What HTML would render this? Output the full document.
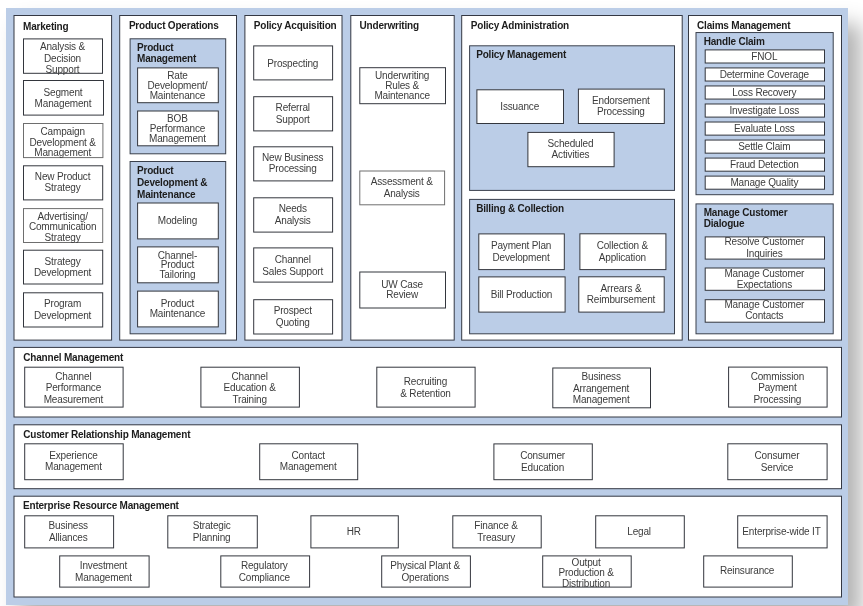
<!DOCTYPE html>
<html lang="en"><head><meta charset="utf-8"><title>Insurance Component Business Model</title>
<style>
html,body{margin:0;padding:0;background:#fff;}
body{width:863px;height:606px;position:relative;overflow:hidden;font-family:"Liberation Sans",sans-serif;font-size:10px;color:#3c3c3c;}
.bg{position:absolute;left:6px;top:8px;width:842px;height:596.5px;background:#bbcde7;box-shadow:13px 16px 20px rgba(0,0,0,.3);}
.s{position:absolute;left:0;top:0;}
.tx{position:absolute;left:0;top:0;width:863px;height:606px;will-change:transform;}
.t{position:absolute;text-align:center;white-space:nowrap;letter-spacing:-0.16px;}
.h{position:absolute;font-weight:bold;color:#1c1c1c;white-space:nowrap;line-height:11px;letter-spacing:-0.2px;}
</style></head><body>
<div class="bg"></div>
<svg class="s" width="863" height="606" viewBox="0 0 863 606">
<rect x="14" y="15.5" width="97.6" height="324.6" fill="#fff" stroke="#343843"/>
<rect x="119.7" y="15.5" width="116.8" height="324.6" fill="#fff" stroke="#343843"/>
<rect x="244.9" y="15.5" width="97.1" height="324.6" fill="#fff" stroke="#343843"/>
<rect x="350.8" y="15.5" width="103.4" height="324.6" fill="#fff" stroke="#343843"/>
<rect x="461.7" y="15.5" width="220.5" height="324.6" fill="#fff" stroke="#343843"/>
<rect x="688.5" y="15.5" width="153" height="324.6" fill="#fff" stroke="#343843"/>
<rect x="14" y="347.4" width="827.5" height="69.6" fill="#fff" stroke="#343843"/>
<rect x="14" y="424.8" width="827.5" height="63.9" fill="#fff" stroke="#343843"/>
<rect x="14" y="496.2" width="827.5" height="100.8" fill="#fff" stroke="#343843"/>
<rect x="130.1" y="38.8" width="95.6" height="115" fill="#bbcde7" stroke="#3a404c"/>
<rect x="130.1" y="161.5" width="95.6" height="172.3" fill="#bbcde7" stroke="#3a404c"/>
<rect x="469.6" y="45.8" width="204.9" height="144.6" fill="#bbcde7" stroke="#3a404c"/>
<rect x="469.6" y="199.4" width="204.9" height="134.4" fill="#bbcde7" stroke="#3a404c"/>
<rect x="696" y="32.55" width="137.2" height="162.15" fill="#bbcde7" stroke="#3a404c"/>
<rect x="696" y="203.9" width="137.2" height="129.9" fill="#bbcde7" stroke="#3a404c"/>
<rect x="23.5" y="38.9" width="79" height="34.4" fill="#fff" stroke="#33363d"/>
<rect x="23.5" y="80.5" width="80" height="34.6" fill="#fff" stroke="#33363d"/>
<rect x="23.5" y="123.5" width="79.4" height="34.1" fill="#fff" stroke="#6e6e6e"/>
<rect x="23.5" y="165.8" width="79.2" height="34.1" fill="#fff" stroke="#33363d"/>
<rect x="23.5" y="208.6" width="79.2" height="33.9" fill="#fff" stroke="#6e6e6e"/>
<rect x="23.5" y="250.2" width="79.2" height="33.8" fill="#fff" stroke="#33363d"/>
<rect x="23.5" y="292.8" width="79.2" height="34.2" fill="#fff" stroke="#33363d"/>
<rect x="137.6" y="67.9" width="80.7" height="34.8" fill="#fff" stroke="#33363d"/>
<rect x="137.6" y="111" width="80.7" height="34.8" fill="#fff" stroke="#33363d"/>
<rect x="137.6" y="203" width="80.7" height="35.9" fill="#fff" stroke="#33363d"/>
<rect x="137.6" y="246.9" width="80.7" height="35.9" fill="#fff" stroke="#33363d"/>
<rect x="137.6" y="291.1" width="80.7" height="35.8" fill="#fff" stroke="#33363d"/>
<rect x="253.7" y="45.9" width="78.9" height="34" fill="#fff" stroke="#33363d"/>
<rect x="253.7" y="96.7" width="78.9" height="34.2" fill="#fff" stroke="#33363d"/>
<rect x="253.7" y="146.8" width="78.9" height="34.1" fill="#fff" stroke="#33363d"/>
<rect x="253.7" y="197.8" width="78.9" height="34.3" fill="#fff" stroke="#33363d"/>
<rect x="253.7" y="247.9" width="78.9" height="34.2" fill="#fff" stroke="#33363d"/>
<rect x="253.7" y="299.7" width="78.9" height="34.3" fill="#fff" stroke="#33363d"/>
<rect x="359.8" y="67.7" width="85.7" height="36" fill="#fff" stroke="#33363d"/>
<rect x="359.8" y="171" width="84.8" height="33.8" fill="#fff" stroke="#6e6e6e"/>
<rect x="359.8" y="272" width="85.7" height="36" fill="#fff" stroke="#33363d"/>
<rect x="476.9" y="89.8" width="86.6" height="33.7" fill="#fff" stroke="#33363d"/>
<rect x="578.4" y="89.1" width="85.9" height="34.4" fill="#fff" stroke="#33363d"/>
<rect x="527.9" y="132.4" width="86.2" height="34.3" fill="#fff" stroke="#33363d"/>
<rect x="478.8" y="233.9" width="85.5" height="35.7" fill="#fff" stroke="#33363d"/>
<rect x="579.9" y="233.8" width="86" height="35.8" fill="#fff" stroke="#33363d"/>
<rect x="478.8" y="276.9" width="86.3" height="35.2" fill="#fff" stroke="#33363d"/>
<rect x="578.8" y="276.8" width="85.4" height="35.3" fill="#fff" stroke="#33363d"/>
<rect x="705.2" y="49.9" width="119.3" height="13.1" fill="#fff" stroke="#33363d"/>
<rect x="705.2" y="67.93" width="119.3" height="13.1" fill="#fff" stroke="#33363d"/>
<rect x="705.2" y="85.96" width="119.3" height="13.1" fill="#fff" stroke="#33363d"/>
<rect x="705.2" y="103.99" width="119.3" height="13.1" fill="#fff" stroke="#33363d"/>
<rect x="705.2" y="122.02" width="119.3" height="13.1" fill="#fff" stroke="#33363d"/>
<rect x="705.2" y="140.05" width="119.3" height="13.1" fill="#fff" stroke="#33363d"/>
<rect x="705.2" y="158.08" width="119.3" height="13.1" fill="#fff" stroke="#33363d"/>
<rect x="705.2" y="176.11" width="119.3" height="13.1" fill="#fff" stroke="#33363d"/>
<rect x="705.2" y="236.9" width="119.3" height="22.2" fill="#fff" stroke="#33363d"/>
<rect x="705.2" y="268" width="119.3" height="22.3" fill="#fff" stroke="#33363d"/>
<rect x="705.2" y="299.7" width="119.3" height="22.5" fill="#fff" stroke="#33363d"/>
<rect x="24.7" y="367.2" width="98.4" height="39.9" fill="#fff" stroke="#33363d"/>
<rect x="200.9" y="367.2" width="98.5" height="39.9" fill="#fff" stroke="#33363d"/>
<rect x="376.8" y="367.2" width="98.3" height="39.9" fill="#fff" stroke="#33363d"/>
<rect x="552.8" y="368" width="97.7" height="39.8" fill="#fff" stroke="#33363d"/>
<rect x="728.6" y="367.1" width="98.5" height="40" fill="#fff" stroke="#33363d"/>
<rect x="24.7" y="443.8" width="98.5" height="35.9" fill="#fff" stroke="#33363d"/>
<rect x="259.7" y="443.8" width="98" height="35.9" fill="#fff" stroke="#33363d"/>
<rect x="493.9" y="443.9" width="98.4" height="35.8" fill="#fff" stroke="#33363d"/>
<rect x="727.8" y="443.8" width="99.3" height="35.9" fill="#fff" stroke="#33363d"/>
<rect x="24.7" y="515.8" width="88.9" height="32.1" fill="#fff" stroke="#33363d"/>
<rect x="167.8" y="515.8" width="89.5" height="32.1" fill="#fff" stroke="#33363d"/>
<rect x="310.9" y="515.8" width="87.4" height="32.1" fill="#fff" stroke="#33363d"/>
<rect x="452.8" y="515.8" width="88.4" height="32.1" fill="#fff" stroke="#33363d"/>
<rect x="595.7" y="515.8" width="88.6" height="32.1" fill="#fff" stroke="#33363d"/>
<rect x="737.7" y="515.8" width="89.4" height="32.1" fill="#fff" stroke="#33363d"/>
<rect x="59.7" y="555.9" width="89.4" height="31.2" fill="#fff" stroke="#33363d"/>
<rect x="220.8" y="555.9" width="88.8" height="31.2" fill="#fff" stroke="#33363d"/>
<rect x="381.7" y="555.9" width="88.7" height="31.2" fill="#fff" stroke="#33363d"/>
<rect x="542.7" y="555.9" width="88.5" height="31.2" fill="#fff" stroke="#33363d"/>
<rect x="703.7" y="555.9" width="88.6" height="31.2" fill="#fff" stroke="#33363d"/>
</svg>
<div class="tx">
<div class="h" style="left:23px;top:21px">Marketing</div>
<div class="h" style="left:128.9px;top:20px">Product Operations</div>
<div class="h" style="left:253.8px;top:20px">Policy Acquisition</div>
<div class="h" style="left:359.6px;top:20px">Underwriting</div>
<div class="h" style="left:470.8px;top:20px">Policy Administration</div>
<div class="h" style="left:697.1px;top:20px">Claims Management</div>
<div class="h" style="left:23.3px;top:352px">Channel Management</div>
<div class="h" style="left:23.3px;top:429px">Customer Relationship Management</div>
<div class="h" style="left:23px;top:500px">Enterprise Resource Management</div>
<div class="h" style="left:137px;top:42px;line-height:11.2px">Product<br>Management</div>
<div class="h" style="left:137px;top:165px;line-height:11.8px">Product<br>Development &amp;<br>Maintenance</div>
<div class="h" style="left:476.2px;top:49px;line-height:11px">Policy Management</div>
<div class="h" style="left:476.2px;top:203px;line-height:11px">Billing &amp; Collection</div>
<div class="h" style="left:703.7px;top:36px;line-height:11px">Handle Claim</div>
<div class="h" style="left:703.7px;top:207px;line-height:11.4px">Manage Customer<br>Dialogue</div>
<div class="t" style="left:22.5px;top:41px;width:80px;line-height:11.5px">Analysis &amp;<br>Decision<br>Support</div>
<div class="t" style="left:22.5px;top:87px;width:81px;line-height:11.4px">Segment<br>Management</div>
<div class="t" style="left:22.5px;top:127px;width:80.4px;line-height:10.5px">Campaign<br>Development &amp;<br>Management</div>
<div class="t" style="left:22.5px;top:171px;width:80.2px;line-height:11.3px">New Product<br>Strategy</div>
<div class="t" style="left:22.5px;top:212px;width:80.2px;line-height:10.3px">Advertising/<br>Communication<br>Strategy</div>
<div class="t" style="left:22.5px;top:256px;width:80.2px;line-height:11.2px">Strategy<br>Development</div>
<div class="t" style="left:22.5px;top:298px;width:80.2px;line-height:11.5px">Program<br>Development</div>
<div class="t" style="left:136.6px;top:71px;width:81.7px;line-height:10px">Rate<br>Development/<br>Maintenance</div>
<div class="t" style="left:136.6px;top:114px;width:81.7px;line-height:10.05px">BOB<br>Performance<br>Management</div>
<div class="t" style="left:136.6px;top:215px;width:81.7px;line-height:11px">Modeling</div>
<div class="t" style="left:136.6px;top:251px;width:81.7px;line-height:9.4px">Channel-<br>Product<br>Tailoring</div>
<div class="t" style="left:136.6px;top:299px;width:81.7px;line-height:10px">Product<br>Maintenance</div>
<div class="t" style="left:252.8px;top:58px;width:79.9px;line-height:11px">Prospecting</div>
<div class="t" style="left:252.8px;top:102px;width:79.9px;line-height:11.5px">Referral<br>Support</div>
<div class="t" style="left:252.8px;top:153px;width:79.9px;line-height:10.6px">New Business<br>Processing</div>
<div class="t" style="left:252.8px;top:203px;width:79.9px;line-height:11.6px">Needs<br>Analysis</div>
<div class="t" style="left:252.8px;top:254px;width:79.9px;line-height:12px">Channel<br>Sales Support</div>
<div class="t" style="left:252.8px;top:305px;width:79.9px;line-height:11.7px">Prospect<br>Quoting</div>
<div class="t" style="left:358.8px;top:71px;width:86.7px;line-height:10px">Underwriting<br>Rules &amp;<br>Maintenance</div>
<div class="t" style="left:358.8px;top:176px;width:85.8px;line-height:11.9px">Assessment &amp;<br>Analysis</div>
<div class="t" style="left:358.8px;top:280px;width:86.7px;line-height:10.1px">UW Case<br>Review</div>
<div class="t" style="left:475.9px;top:101px;width:87.6px;line-height:11px">Issuance</div>
<div class="t" style="left:577.4px;top:96px;width:86.9px;line-height:10.8px">Endorsement<br>Processing</div>
<div class="t" style="left:526.9px;top:138px;width:87.2px;line-height:11.3px">Scheduled<br>Activities</div>
<div class="t" style="left:477.8px;top:240px;width:86.5px;line-height:12px">Payment Plan<br>Development</div>
<div class="t" style="left:578.9px;top:240px;width:87px;line-height:12px">Collection &amp;<br>Application</div>
<div class="t" style="left:477.8px;top:289px;width:87.3px;line-height:11px">Bill Production</div>
<div class="t" style="left:577.8px;top:283px;width:86.4px;line-height:11.4px">Arrears &amp;<br>Reimbursement</div>
<div class="t" style="left:704.2px;top:51px;width:120.3px;line-height:11px">FNOL</div>
<div class="t" style="left:704.2px;top:69px;width:120.3px;line-height:11px">Determine Coverage</div>
<div class="t" style="left:704.2px;top:87px;width:120.3px;line-height:11px">Loss Recovery</div>
<div class="t" style="left:704.2px;top:105px;width:120.3px;line-height:11px">Investigate Loss</div>
<div class="t" style="left:704.2px;top:123px;width:120.3px;line-height:11px">Evaluate Loss</div>
<div class="t" style="left:704.2px;top:141px;width:120.3px;line-height:11px">Settle Claim</div>
<div class="t" style="left:704.2px;top:159px;width:120.3px;line-height:11px">Fraud Detection</div>
<div class="t" style="left:704.2px;top:177px;width:120.3px;line-height:11px">Manage Quality</div>
<div class="t" style="left:704.2px;top:236px;width:120.3px;line-height:11.9px">Resolve Customer<br>Inquiries</div>
<div class="t" style="left:704.2px;top:268px;width:120.3px;line-height:11.1px">Manage Customer<br>Expectations</div>
<div class="t" style="left:704.2px;top:299px;width:120.3px;line-height:11.3px">Manage Customer<br>Contacts</div>
<div class="t" style="left:23.7px;top:371px;width:99.4px;line-height:11.3px">Channel<br>Performance<br>Measurement</div>
<div class="t" style="left:199.9px;top:371px;width:99.5px;line-height:11.35px">Channel<br>Education &amp;<br>Training</div>
<div class="t" style="left:375.8px;top:376px;width:99.3px;line-height:11.8px">Recruiting<br>&amp; Retention</div>
<div class="t" style="left:551.8px;top:371px;width:98.7px;line-height:11.6px">Business<br>Arrangement<br>Management</div>
<div class="t" style="left:727.6px;top:371px;width:99.5px;line-height:11.35px">Commission<br>Payment<br>Processing</div>
<div class="t" style="left:23.7px;top:450px;width:99.5px;line-height:11.4px">Experience<br>Management</div>
<div class="t" style="left:258.7px;top:450px;width:99px;line-height:11.4px">Contact<br>Management</div>
<div class="t" style="left:492.9px;top:450px;width:99.4px;line-height:11.6px">Consumer<br>Education</div>
<div class="t" style="left:726.8px;top:450px;width:100.3px;line-height:11.5px">Consumer<br>Service</div>
<div class="t" style="left:23.3px;top:520px;width:89.9px;line-height:11.5px">Business<br>Alliances</div>
<div class="t" style="left:166.4px;top:520px;width:90.5px;line-height:11.5px">Strategic<br>Planning</div>
<div class="t" style="left:309.5px;top:526px;width:88.4px;line-height:11px">HR</div>
<div class="t" style="left:451.4px;top:520px;width:89.4px;line-height:11.5px">Finance &amp;<br>Treasury</div>
<div class="t" style="left:594.3px;top:526px;width:89.6px;line-height:11px">Legal</div>
<div class="t" style="left:736.3px;top:526px;width:90.4px;line-height:11px">Enterprise-wide IT</div>
<div class="t" style="left:58.3px;top:560px;width:90.4px;line-height:11.9px">Investment<br>Management</div>
<div class="t" style="left:219.4px;top:560px;width:89.8px;line-height:11.9px">Regulatory<br>Compliance</div>
<div class="t" style="left:380.3px;top:560px;width:89.7px;line-height:11.9px">Physical Plant &amp;<br>Operations</div>
<div class="t" style="left:541.3px;top:558px;width:89.5px;line-height:10.35px">Output<br>Production &amp;<br>Distribution</div>
<div class="t" style="left:702.3px;top:565px;width:89.6px;line-height:11px">Reinsurance</div>
</div>
</body></html>
